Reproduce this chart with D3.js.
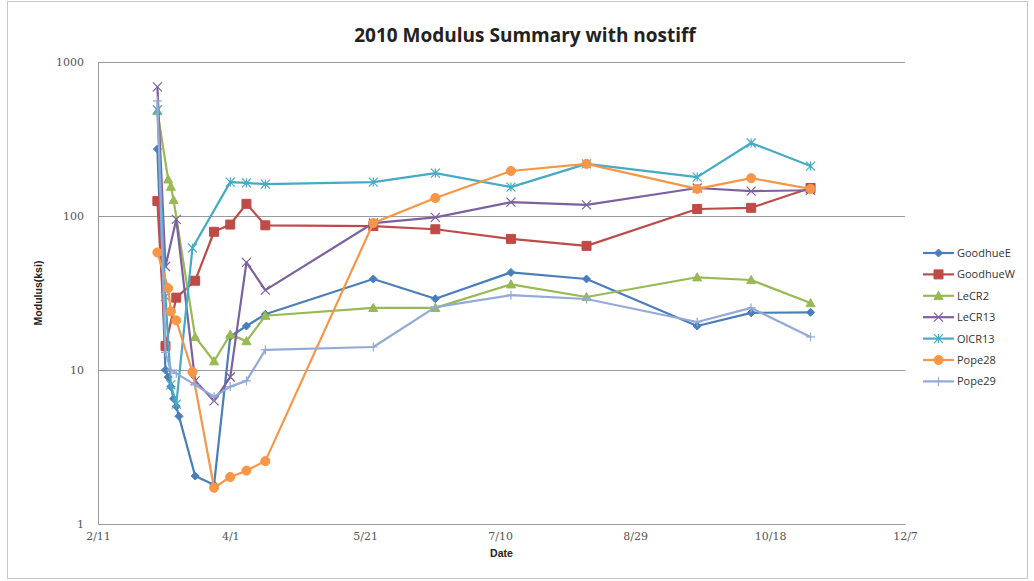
<!DOCTYPE html>
<html>
<head>
<meta charset="utf-8">
<script src="https://cdn.jsdelivr.net/npm/d3@7"></script>
<style>
  body { margin: 0; background: #fff; }
  svg { display: block; }
</style>
</head>
<body>
<div id="chart"></div>
<script>
// data
const seriesNames = ["GoodhueE", "GoodhueW", "LeCR2", "LeCR13", "OlCR13", "Pope28", "Pope29"];
const seriesColors = ["#4a7ebb", "#be4b48", "#98b954", "#7d60a0", "#46aac5", "#f79646", "#93a9d6"];
const seriesMarkers = ["diamond", "square", "triangle", "x", "star", "circle", "plus"];

const goodhueE = [["2010-03-05", 272], ["2010-03-08", 10], ["2010-03-09", 9], ["2010-03-10", 7.8], ["2010-03-11", 6.5],
  ["2010-03-12", 5.8], ["2010-03-13", 5], ["2010-03-19", 2.05], ["2010-03-26", 1.8], ["2010-04-01", 16.5],
  ["2010-04-07", 19.3], ["2010-04-14", 23], ["2010-05-24", 39], ["2010-06-16", 29], ["2010-07-14", 43],
  ["2010-08-11", 39], ["2010-09-21", 19.3], ["2010-10-11", 23.5], ["2010-11-02", 23.7]];
const goodhueW = [["2010-03-05", 125], ["2010-03-08", 14.3], ["2010-03-12", 29.5], ["2010-03-19", 38],
  ["2010-03-26", 79], ["2010-04-01", 88], ["2010-04-07", 120], ["2010-04-14", 87], ["2010-05-24", 86],
  ["2010-06-16", 82], ["2010-07-14", 71], ["2010-08-11", 64], ["2010-09-21", 111], ["2010-10-11", 113],
  ["2010-11-02", 152]];
const leCR2 = [["2010-03-05", 480], ["2010-03-09", 173], ["2010-03-10", 155], ["2010-03-11", 127],
  ["2010-03-19", 16.4], ["2010-03-26", 11.4], ["2010-04-01", 17], ["2010-04-07", 15.4], ["2010-04-14", 22.5],
  ["2010-05-24", 25.3], ["2010-06-16", 25.3], ["2010-07-14", 36], ["2010-08-11", 29.8], ["2010-09-21", 40],
  ["2010-10-11", 38.4], ["2010-11-02", 27.2]];
const leCR13 = [["2010-03-05", 690], ["2010-03-08", 47], ["2010-03-12", 95], ["2010-03-19", 8.5],
  ["2010-03-26", 6.3], ["2010-04-01", 9], ["2010-04-07", 50], ["2010-04-14", 33], ["2010-05-24", 90],
  ["2010-06-16", 98], ["2010-07-14", 123], ["2010-08-11", 118], ["2010-09-21", 152], ["2010-10-11", 145],
  ["2010-11-02", 147]];
const olCR13 = [["2010-03-05", 490], ["2010-03-08", 30], ["2010-03-10", 8], ["2010-03-12", 6],
  ["2010-03-18", 62], ["2010-04-01", 166], ["2010-04-07", 164], ["2010-04-14", 161], ["2010-05-24", 166],
  ["2010-06-16", 190], ["2010-07-14", 154], ["2010-08-11", 218], ["2010-09-21", 179], ["2010-10-11", 298],
  ["2010-11-02", 211]];
const pope28 = [["2010-03-05", 58], ["2010-03-09", 34], ["2010-03-10", 24], ["2010-03-12", 21],
  ["2010-03-18", 9.7], ["2010-03-26", 1.72], ["2010-04-01", 2.02], ["2010-04-07", 2.22], ["2010-04-14", 2.56],
  ["2010-05-24", 90], ["2010-06-16", 131], ["2010-07-14", 196], ["2010-08-11", 218], ["2010-09-21", 150],
  ["2010-10-11", 176], ["2010-11-02", 150]];
const pope29 = [["2010-03-05", 560], ["2010-03-08", 13], ["2010-03-10", 10], ["2010-03-12", 9.5],
  ["2010-03-19", 8], ["2010-03-26", 6.7], ["2010-04-01", 7.8], ["2010-04-07", 8.5], ["2010-04-14", 13.5],
  ["2010-05-24", 14.1], ["2010-06-16", 25.6], ["2010-07-14", 30.6], ["2010-08-11", 28.9], ["2010-09-21", 20.5],
  ["2010-10-11", 25.3], ["2010-11-02", 16.4]];

const seriesData = [goodhueE, goodhueW, leCR2, leCR13, olCR13, pope28, pope29];

const xTicks = ["2010-02-11", "2010-04-01", "2010-05-21", "2010-07-10", "2010-08-29", "2010-10-18", "2010-12-07"];
const yTicks = [1, 10, 100, 1000];

// mise en page
const width = 1034, height = 581;
const parseDate = d3.timeParse("%Y-%m-%d");
const margin = {left: 98, right: 905, top: 62, bottom: 524};

const svg = d3.select("#chart").append("svg")
    .attr("width", width)
    .attr("height", height);

// cadre du graphique
svg.append("rect")
    .attr("x", 7.5).attr("y", 1.5)
    .attr("width", 1020).attr("height", 577)
    .style("fill", "#fff")
    .style("stroke", "#c8c8c8");

const x = d3.scaleTime()
    .domain([parseDate(xTicks[0]), parseDate(xTicks[xTicks.length - 1])])
    .range([margin.left, margin.right]);

const y = d3.scaleLog()
    .domain([1, 1000])
    .range([margin.bottom, margin.top]);

// grille
svg.append("g")
    .selectAll("line")
    .data(yTicks.slice(1))
    .enter().append("line")
    .attr("x1", margin.left).attr("x2", margin.right)
    .attr("y1", d => Math.round(y(d)) + 0.5).attr("y2", d => Math.round(y(d)) + 0.5)
    .style("stroke", "#9a9a9a")
    .style("stroke-width", 1);

// axes
const xAxis = svg.append("g")
    .attr("transform", "translate(0," + margin.bottom + ")")
    .call(d3.axisBottom(x)
        .tickValues(xTicks.map(parseDate))
        .tickFormat(d3.timeFormat("%-m/%-d"))
        .tickSize(0)
        .tickPadding(8));

const yAxis = svg.append("g")
    .attr("transform", "translate(" + margin.left + ",0)")
    .call(d3.axisLeft(y)
        .tickValues(yTicks)
        .tickFormat(d3.format("d"))
        .tickSize(0)
        .tickPadding(14));

[xAxis, yAxis].forEach(a => {
    a.select(".domain").style("stroke", "#9a9a9a").style("stroke-width", 1);
    a.selectAll("text")
        .style("font-family", "'DejaVu Serif', 'Liberation Serif', serif")
        .style("font-size", "11px")
        .style("fill", "#555");
});

// titres
svg.append("text")
    .attr("x", 525)
    .attr("y", 42)
    .attr("text-anchor", "middle")
    .style("font-family", "'Open Sans', sans-serif")
    .style("font-weight", "bold")
    .style("font-size", "19px")
    .style("fill", "#222")
    .text("2010 Modulus Summary with nostiff");

svg.append("text")
    .attr("x", (margin.left + margin.right) / 2)
    .attr("y", 557)
    .attr("text-anchor", "middle")
    .style("font-family", "'Liberation Sans', Arial, sans-serif")
    .style("font-weight", "bold")
    .style("font-size", "10.5px")
    .style("fill", "#222")
    .text("Date");

svg.append("text")
    .attr("transform", "translate(42,293) rotate(-90)")
    .attr("text-anchor", "middle")
    .style("font-family", "'Liberation Sans', Arial, sans-serif")
    .style("font-weight", "bold")
    .style("font-size", "10.5px")
    .style("fill", "#222")
    .text("Modulus(ksi)");

// marqueurs
function markerPath(type, s) {
    const h = s / 2;
    switch (type) {
        case "diamond": return `M0,${-h}L${h},0L0,${h}L${-h},0Z`;
        case "square": return `M${-h},${-h}H${h}V${h}H${-h}Z`;
        case "triangle": return `M0,${-h}L${h},${h * 0.8}L${-h},${h * 0.8}Z`;
        case "x": return `M${-h},${-h}L${h},${h}M${h},${-h}L${-h},${h}`;
        case "star": return `M${-h},${-h}L${h},${h}M${h},${-h}L${-h},${h}M0,${-h}V${h}`;
        case "plus": return `M${-h},0H${h}M0,${-h}V${h}`;
        case "circle": return d3.symbol(d3.symbolCircle, s * s * 0.8)();
    }
}
const markerSize = {diamond: 8, square: 9, triangle: 9, x: 9, star: 9, circle: 9, plus: 9};
const filled = {diamond: true, square: true, triangle: true, circle: true};

const line = d3.line()
    .x(d => x(parseDate(d[0])))
    .y(d => y(d[1]));

const plot = svg.append("g");

seriesData.forEach((data, i) => {
    const g = plot.append("g");
    const color = seriesColors[i], m = seriesMarkers[i];
    g.append("path")
        .datum(data)
        .attr("d", line)
        .style("fill", "none")
        .style("stroke", color)
        .style("stroke-width", 2.2)
        .style("stroke-linejoin", "round");
    g.selectAll(".pt")
        .data(data)
        .enter().append("path")
        .attr("class", "pt")
        .attr("transform", d => "translate(" + x(parseDate(d[0])) + "," + y(d[1]) + ")")
        .attr("d", markerPath(m, markerSize[m]))
        .style("fill", filled[m] ? color : "none")
        .style("stroke", color)
        .style("stroke-width", filled[m] ? 1 : 1.2);
});

// légende
const legend = svg.append("g")
    .attr("transform", "translate(923, 253)");

seriesNames.forEach((name, i) => {
    const item = legend.append("g")
        .attr("transform", "translate(0," + (i * 21.4) + ")");
    const m = seriesMarkers[i];
    item.append("line")
        .attr("x1", 0).attr("x2", 31)
        .style("stroke", seriesColors[i])
        .style("stroke-width", 2.2);
    item.append("path")
        .attr("transform", "translate(15.5,0)")
        .attr("d", markerPath(m, markerSize[m]))
        .style("fill", filled[m] ? seriesColors[i] : "none")
        .style("stroke", seriesColors[i])
        .style("stroke-width", filled[m] ? 1 : 1.2);
    item.append("text")
        .attr("x", 34)
        .attr("y", 4)
        .style("font-family", "'Open Sans', sans-serif")
        .style("font-size", "11px")
        .style("fill", "#333")
        .text(name);
});
</script>
</body>
</html>
